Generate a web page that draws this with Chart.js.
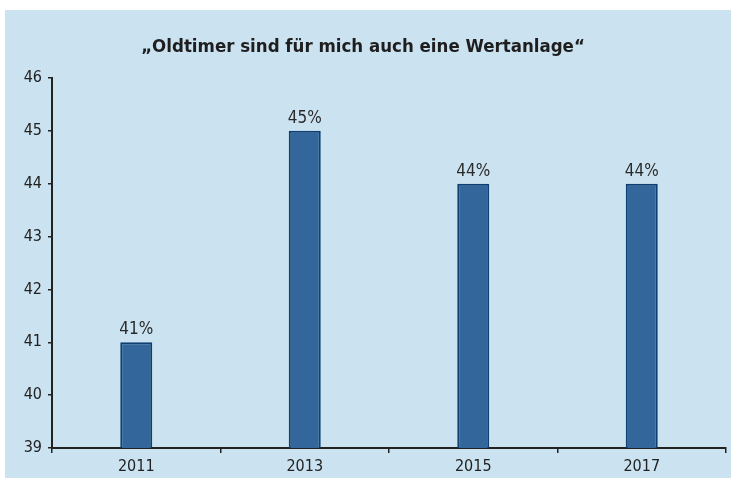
<!DOCTYPE html>
<html><head><meta charset="utf-8">
<script src="https://cdn.jsdelivr.net/npm/chart.js@4"></script>
<style>
html,body{margin:0;padding:0;background:#fff;}
#panel{position:absolute;left:5px;top:10px;width:726px;height:468px;background:#cbe3f0;}
#wrap{position:absolute;left:0;top:0;width:731px;height:486px;}
</style></head><body>
<div id="panel"></div>
<div id="wrap"><canvas id="c" width="731" height="486"></canvas></div>
<script>
const categories = ['2011','2013','2015','2017'];
const values = [41, 45, 44, 44];
const valueLabels = ['41%','45%','44%','44%'];
const yTicks = [39,40,41,42,43,44,45,46];
const titleText = '„Oldtimer sind für mich auch eine Wertanlage“';

const FONT = "'DejaVu Sans Condensed','Liberation Sans Narrow','Roboto',sans-serif";
const INK = '#222';

const labelPlugin = {
  id: 'valLabels',
  afterDatasetsDraw(chart) {
    const ctx = chart.ctx;
    const meta = chart.getDatasetMeta(0);
    ctx.save();
    ctx.font = '17px ' + FONT;
    ctx.fillStyle = '#2a2a2a';
    ctx.textAlign = 'center';
    ctx.textBaseline = 'alphabetic';
    meta.data.forEach((bar, i) => {
      ctx.fillText(valueLabels[i], bar.x, bar.y - 8);
    });
    ctx.restore();
  }
};

new Chart(document.getElementById('c'), {
  type: 'bar',
  data: {
    labels: categories,
    datasets: [{
      data: values,
      backgroundColor: '#33669a',
      borderColor: '#0e3f70',
      borderWidth: 2,
      borderSkipped: 'bottom',
      categoryPercentage: 1,
      barPercentage: 0.19
    }]
  },
  options: {
    responsive: false,
    animation: false,
    layout: { padding: { left: 0, right: 5, top: 0, bottom: 0 } },
    plugins: {
      legend: { display: false },
      tooltip: { enabled: false },
      title: {
        display: true,
        text: titleText,
        color: '#1e1e1e',
        font: { family: FONT, size: 18.5, weight: 'bold', lineHeight: 1.2 },
        padding: { top: 36, bottom: 19.8 }
      }
    },
    scales: {
      x: {
        afterFit: s => { s.height = 38; },
        grid: { display: true, drawOnChartArea: false, drawTicks: true, tickLength: 5, color: INK, lineWidth: 1.5 },
        border: { display: true, color: INK, width: 2 },
        ticks: { color: INK, font: { family: FONT, size: 16 }, padding: 4 }
      },
      y: {
        min: 39, max: 46,
        afterFit: s => { s.width = 52; },
        afterBuildTicks: s => { s.ticks = yTicks.map(v => ({ value: v })); },
        grid: { display: true, drawOnChartArea: false, drawTicks: true, tickLength: 4, color: INK, lineWidth: 1.5 },
        border: { display: true, color: INK, width: 2 },
        ticks: { color: INK, font: { family: FONT, size: 16 }, padding: 6 }
      }
    }
  },
  plugins: [labelPlugin]
});
</script>
</body></html>
